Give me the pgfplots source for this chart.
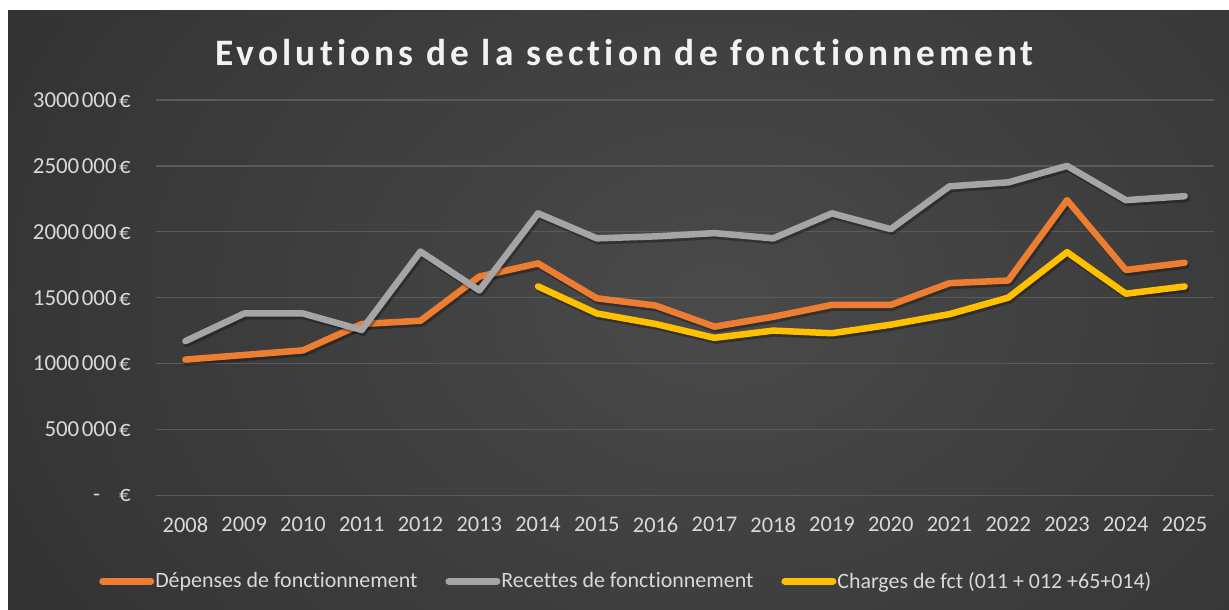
\documentclass[border=0pt]{standalone}
\usepackage{fontspec}
\setmainfont[Ligatures={NoCommon}]{Carlito}
\newfontfamily\titlefont[LetterSpace=11,Ligatures={NoCommon}]{Carlito}
\usepackage{pgfplots}
\usepackage{pgfplotstable}
\pgfplotsset{compat=1.18}
\definecolor{bgin}{HTML}{4A4A4A}
\definecolor{bgout}{HTML}{242424}
\definecolor{gridc}{HTML}{5A5A5A}
\definecolor{txt}{HTML}{D9D9D9}
\definecolor{cor}{HTML}{ED7D31}
\definecolor{cgr}{HTML}{A5A5A5}
\definecolor{cye}{HTML}{FFC000}
\pgfplotstableread{
x dep rec
0 1030000 1170000
1 1065000 1380000
2 1100000 1380000
3 1300000 1255000
4 1325000 1850000
5 1660000 1555000
6 1760000 2140000
7 1495000 1950000
8 1440000 1965000
9 1280000 1990000
10 1355000 1950000
11 1445000 2140000
12 1445000 2020000
13 1610000 2345000
14 1630000 2375000
15 2240000 2500000
16 1710000 2240000
17 1765000 2270000
}\dataA
\pgfplotstableread{
x chg
6 1585000
7 1380000
8 1300000
9 1195000
10 1250000
11 1230000
12 1295000
13 1375000
14 1500000
15 1845000
16 1530000
17 1585000
}\dataB
\begin{document}
\begin{tikzpicture}
\fill[white] (0bp,0bp) rectangle (1229bp,-610bp);
\begin{scope}
\clip (8bp,-10bp) rectangle (1229bp,-610bp);
\shade[inner color=bgin, outer color=bgout] (-600bp,-1300bp) rectangle (2040bp,700bp);
\end{scope}
\begin{axis}[
  at={(156bp,-495.3bp)}, anchor=south west, scale only axis,
  width=1058bp, height=395.3bp,
  xmin=-0.5, xmax=17.5, ymin=0, ymax=3000000,
  axis line style={draw=none}, tick style={draw=none},
  ymajorgrids, grid style={gridc, line width=1.3bp},
  xtick={0,1,2,3,4,5,6,7,8,9,10,11,12,13,14,15,16,17},
  xticklabels={2008,2009,2010,2011,2012,2013,2014,2015,2016,2017,2018,2019,2020,2021,2022,2023,2024,2025},
  ytick={0,500000,1000000,1500000,2000000,2500000,3000000},
  yticklabels={{-\hspace{19bp}€},{500\hspace{2.5bp}000\hspace{2.5bp}€},{1000\hspace{2.5bp}000\hspace{2.5bp}€},{1500\hspace{2.5bp}000\hspace{2.5bp}€},{2000\hspace{2.5bp}000\hspace{2.5bp}€},{2500\hspace{2.5bp}000\hspace{2.5bp}€},{3000\hspace{2.5bp}000\hspace{2.5bp}€}},
  scaled y ticks=false,
  ticklabel style={text=txt},
  yticklabel style={anchor=east, inner sep=0pt, xshift=-25bp, font=\fontsize{23}{27}\selectfont},
  xticklabel style={anchor=north, inner sep=0pt, yshift=-21.4bp, font=\fontsize{22.5}{27}\selectfont},
  clip=false,
  title={Evolutions de la section de fonctionnement},
  title style={at={(axis description cs:0.443,1.072)}, anchor=base, font=\titlefont\bfseries\fontsize{37.5}{42}\selectfont, text=white!95!black},
  legend style={at={(axis description cs:0.444,-0.217)}, anchor=center, draw=none, fill=none,
    legend columns=-1, font=\fontsize{22}{26}\selectfont, text=txt,
    nodes={inner xsep=1bp},
    /tikz/every even column/.append style={column sep=27bp}},
  legend cell align=left,
  legend image code/.code={\draw[#1, line width=7bp, line cap=round] (0bp,0bp) -- (48bp,0bp);},
  every axis plot/.append style={line join=round, line cap=round},
]
\addplot[forget plot, black, opacity=0.3, line width=7bp, xshift=1.5bp, yshift=-2.5bp] table[x=x,y=dep]{\dataA};
\addplot[cor, line width=6.5bp] table[x=x,y=dep]{\dataA};
\addlegendentry{Dépenses de fonctionnement}
\addplot[forget plot, black, opacity=0.3, line width=7bp, xshift=1.5bp, yshift=-2.5bp] table[x=x,y=rec]{\dataA};
\addplot[cgr, line width=6.5bp] table[x=x,y=rec]{\dataA};
\addlegendentry{Recettes de fonctionnement}
\addplot[forget plot, black, opacity=0.3, line width=7bp, xshift=1.5bp, yshift=-2.5bp] table[x=x,y=chg]{\dataB};
\addplot[cye, line width=6.5bp] table[x=x,y=chg]{\dataB};
\addlegendentry{Charges de fct (011 + 012 +65+014)}
\end{axis}
\pgfresetboundingbox
\useasboundingbox (0bp,0bp) rectangle (1229bp,-610bp);
\end{tikzpicture}
\end{document}
